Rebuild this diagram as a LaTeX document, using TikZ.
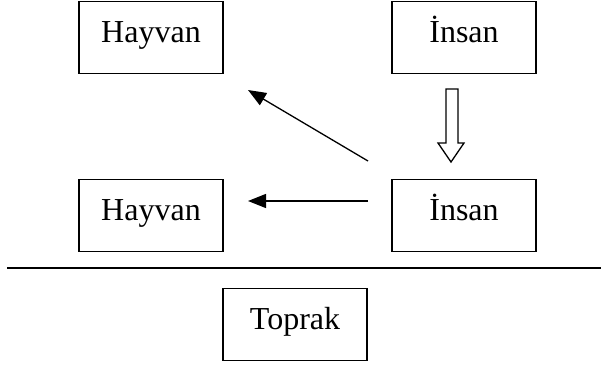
\documentclass[tikz,border=0pt]{standalone}
\usepackage{fontspec}
\setmainfont{Liberation Serif}
\usetikzlibrary{arrows.meta}
\begin{document}
\begin{tikzpicture}[x=1pt,y=-1pt,
  boxnode/.style={draw,line width=1.4pt,minimum width=144pt,minimum height=72pt,inner sep=0pt,
    font=\fontsize{32}{32}\selectfont,text height=20pt,text depth=10pt},
  conn/.style={line width=1.3pt,-{Triangle[length=18pt,width=14pt]}},
  hollow/.style={draw,line width=1.3pt,fill=white,line join=miter}]
\useasboundingbox (0,0) rectangle (601,367);
\node[boxnode] (h1) at (151,37.5) {Hayvan};
\node[boxnode] (i1) at (464,37.5) {İnsan};
\node[boxnode] (h2) at (151,215.5) {Hayvan};
\node[boxnode] (i2) at (464,215.5) {İnsan};
\node[boxnode] (t) at (295,324.5) {Toprak};
\coordinate (l1) at (7,268);
\coordinate (l2) at (601,268);
\draw[line width=1.5pt] (l1) -- (l2);
\coordinate (d1) at (368,161);
\coordinate (d2) at (248,90);
\draw[conn] (d1) -- (d2);
\coordinate (e1) at (368,201);
\coordinate (e2) at (248,201);
\draw[conn] (e1) -- (e2);
\draw[hollow] (446,89) -- (458,89) -- (458,143) -- (464,143) -- (451,162) -- (438,143) -- (446,143) -- cycle;
\end{tikzpicture}
\end{document}
